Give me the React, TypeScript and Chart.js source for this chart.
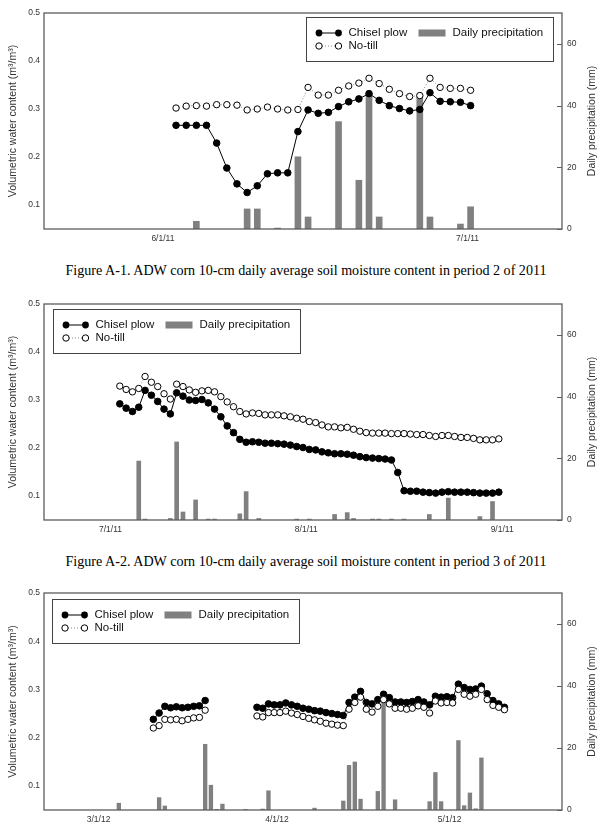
import React, { useEffect, useRef } from "react";
import { Chart, registerables } from "chart.js";
Chart.register(...registerables);

// ---------- shared axis data ----------
const vwcRange = [0.05, 0.5];
const vwcTicks = [0.1, 0.2, 0.3, 0.4, 0.5];
const rainRange = [0, 70];
const rainTicks = [0, 20, 40, 60];
const seriesLabels = ["Chisel plow", "No-till", "Daily precipitation"];
const leftTitle = "Volumetric water content (m³/m³)";
const rightTitle = "Daily precipitation (mm)";

// ---------- Panel 1 (period 2 of 2011) ----------
const p1Range = ["5/20/11", "7/10/11"];
const p1TickDates = ["6/1/11", "7/1/11"];
const p1Start = "6/2/11";
const p1Chisel = [0.266, 0.266, 0.266, 0.266, 0.229, 0.177, 0.144, 0.126, 0.14, 0.165, 0.167, 0.167, 0.253, 0.298, 0.291, 0.293, 0.305, 0.315, 0.321, 0.332, 0.318, 0.307, 0.301, 0.296, 0.299, 0.334, 0.316, 0.315, 0.314, 0.307];
const p1NoTill = [0.302, 0.306, 0.307, 0.306, 0.309, 0.309, 0.308, 0.298, 0.3, 0.304, 0.3, 0.298, 0.299, 0.345, 0.329, 0.329, 0.339, 0.348, 0.354, 0.364, 0.353, 0.341, 0.332, 0.326, 0.328, 0.364, 0.345, 0.343, 0.343, 0.339];
const p1RainDates = ["6/4/11", "6/9/11", "6/10/11", "6/12/11", "6/14/11", "6/15/11", "6/18/11", "6/20/11", "6/21/11", "6/22/11", "6/26/11", "6/27/11", "6/30/11", "7/1/11"];
const p1Rain = [2.5, 6.5, 6.5, 0.3, 23.4, 3.9, 34.8, 15.8, 44.0, 3.9, 43.5, 3.9, 1.6, 7.2];
const p1Caption = "Figure A-1. ADW corn 10-cm daily average soil moisture content in period 2 of 2011";

// ---------- Panel 2 (period 3 of 2011) ----------
const p2Range = ["6/20/11", "9/10/11"];
const p2TickDates = ["7/1/11", "8/1/11", "9/1/11"];
const p2Start = "7/2/11";
const p2Chisel = [0.292, 0.283, 0.276, 0.285, 0.32, 0.31, 0.297, 0.281, 0.271, 0.315, 0.308, 0.3, 0.299, 0.301, 0.294, 0.281, 0.265, 0.246, 0.232, 0.218, 0.212, 0.213, 0.212, 0.21, 0.21, 0.209, 0.208, 0.206, 0.203, 0.201,
  0.197, 0.196, 0.192, 0.19, 0.188, 0.188, 0.187, 0.185, 0.182, 0.18, 0.179, 0.178, 0.177, 0.175, 0.149, 0.111, 0.11, 0.11, 0.108, 0.107, 0.106, 0.108, 0.109, 0.108, 0.108, 0.108, 0.107, 0.106, 0.106, 0.106, 0.108];
const p2NoTill = [0.329, 0.322, 0.317, 0.324, 0.349, 0.337, 0.328, 0.313, 0.302, 0.333, 0.328, 0.321, 0.316, 0.319, 0.32, 0.317, 0.307, 0.296, 0.286, 0.276, 0.271, 0.273, 0.272, 0.269, 0.269, 0.269, 0.267, 0.265, 0.262, 0.26,
  0.255, 0.253, 0.248, 0.244, 0.244, 0.242, 0.243, 0.239, 0.235, 0.232, 0.231, 0.231, 0.231, 0.23, 0.23, 0.23, 0.229, 0.228, 0.228, 0.226, 0.224, 0.226, 0.226, 0.224, 0.222, 0.222, 0.22, 0.217, 0.217, 0.217, 0.219];
const p2RainDates = ["7/5/11", "7/6/11", "7/10/11", "7/11/11", "7/12/11", "7/14/11", "7/16/11", "7/17/11", "7/21/11", "7/22/11", "7/24/11", "7/30/11", "8/1/11", "8/5/11", "8/7/11", "8/8/11", "8/11/11", "8/12/11", "8/14/11", "8/16/11", "8/20/11", "8/23/11", "8/28/11", "8/30/11"];
const p2Rain = [19.1, 0.3, 0.5, 25.3, 2.6, 6.5, 0.3, 0.3, 2.0, 9.2, 0.5, 0.3, 0.3, 1.8, 2.4, 0.5, 0.3, 0.3, 0.3, 0.3, 1.8, 7.1, 1.1, 6.0];
const p2Caption = "Figure A-2. ADW corn 10-cm daily average soil moisture content in period 3 of 2011";

// ---------- Panel 3 (spring 2012) ----------
const p3Range = ["2/20/12", "5/20/12"];
const p3TickDates = ["3/1/12", "4/1/12", "5/1/12"];
const p3Start = "3/10/12";
const p3Chisel = [0.238, 0.251, 0.265, 0.262, 0.264, 0.262, 0.263, 0.265, 0.266, 0.277,
  null, null, null, null, null, null, null, null,
  0.263, 0.261, 0.27, 0.268, 0.268, 0.272, 0.268, 0.265, 0.261, 0.259, 0.256, 0.255, 0.252, 0.25, 0.248, 0.246,
  0.273, 0.284, 0.296, 0.273, 0.27, 0.279, 0.29, 0.283, 0.274, 0.274, 0.273, 0.275, 0.279, 0.274, 0.268, 0.286, 0.284, 0.285, 0.283, 0.311, 0.304, 0.3, 0.301, 0.307, 0.291, 0.277, 0.27, 0.263];
const p3NoTill = [0.22, 0.225, 0.238, 0.237, 0.238, 0.235, 0.238, 0.241, 0.242, 0.257,
  null, null, null, null, null, null, null, null,
  0.245, 0.243, 0.252, 0.252, 0.252, 0.255, 0.251, 0.248, 0.244, 0.24, 0.237, 0.234, 0.23, 0.228, 0.226, 0.225,
  0.259, 0.273, 0.284, 0.259, 0.253, 0.265, 0.279, 0.27, 0.261, 0.261, 0.259, 0.261, 0.266, 0.263, 0.251, 0.276, 0.272, 0.273, 0.272, 0.3, 0.29, 0.286, 0.29, 0.3, 0.279, 0.267, 0.263, 0.258];
const p3RainDates = ["3/4/12", "3/11/12", "3/12/12", "3/19/12", "3/20/12", "3/21/12", "3/22/12", "3/26/12", "3/29/12", "3/30/12", "4/7/12", "4/12/12", "4/13/12", "4/14/12", "4/15/12", "4/18/12", "4/19/12", "4/21/12", "4/27/12", "4/28/12", "4/29/12", "5/2/12", "5/3/12", "5/4/12", "5/5/12", "5/6/12"];
const p3Rain = [2.2, 4.0, 1.3, 21.2, 8.0, 0.2, 1.9, 0.2, 0.3, 6.2, 0.6, 2.9, 14.4, 15.5, 3.5, 6.0, 37.0, 3.3, 2.7, 12.1, 2.7, 22.4, 1.4, 5.5, 0.4, 16.8];

// ---------- helpers ----------
const DAY = 86400000;
const toDay = (s: string) => {
  const [m, d, y] = s.split("/").map(Number);
  return Date.UTC(2000 + y, m - 1, d) / DAY;
};

const SANS = '"Liberation Sans", Arial, sans-serif';
const SERIF = '"Liberation Serif", "Times New Roman", serif';
const TEXT = "#333";
const FRAME = "#5c5c5c";
const BAR = "#808080";

type PanelCfg = {
  top: number;
  height: number;
  padTop: number;
  plotH: number;
  range: string[];
  tickDates: string[];
  start: string;
  chisel: (number | null)[];
  noTill: (number | null)[];
  rainDates: string[];
  rain: number[];
  barW: number;
  legendDx: number;
  legendDy: number;
};

const decorPlugin = {
  id: "decor",
  afterDraw(chart: any, _args: any, opts: any) {
    const { ctx, chartArea: a } = chart;
    ctx.save();
    // frame
    ctx.strokeStyle = FRAME;
    ctx.lineWidth = 1.3;
    ctx.strokeRect(a.left, a.top, a.right - a.left, a.bottom - a.top);
    // inward ticks on right axis
    const y2 = chart.scales.y2;
    ctx.lineWidth = 1;
    y2.ticks.forEach((t: any) => {
      const py = Math.round(y2.getPixelForValue(t.value)) + 0.5;
      ctx.beginPath();
      ctx.moveTo(a.right - 5, py);
      ctx.lineTo(a.right, py);
      ctx.stroke();
    });
    // axis titles
    const cy = (a.top + a.bottom) / 2;
    ctx.fillStyle = TEXT;
    ctx.font = `10.5px ${SANS}`;
    ctx.textAlign = "center";
    ctx.textBaseline = "middle";
    ctx.save();
    ctx.translate(13, cy);
    ctx.rotate(-Math.PI / 2);
    ctx.fillText(leftTitle, 0, 0);
    ctx.restore();
    ctx.save();
    ctx.translate(592, cy);
    ctx.rotate(-Math.PI / 2);
    ctx.fillText(rightTitle, 0, 0);
    ctx.restore();

    // legend
    const bx = Math.round(a.left + opts.dx) + 0.5;
    const by = Math.round(a.top + opts.dy) + 0.5;
    const bw = 247, bh = 44;
    ctx.fillStyle = "#fff";
    ctx.fillRect(bx, by, bw, bh);
    ctx.strokeStyle = "#444";
    ctx.lineWidth = 1;
    ctx.strokeRect(bx, by, bw, bh);
    const r1 = by + 15.5, r2 = by + 28.5;
    const m1 = bx + 12.5, m2 = bx + 32;
    // chisel symbol
    ctx.strokeStyle = "#000";
    ctx.beginPath();
    ctx.moveTo(m1, r1);
    ctx.lineTo(m2, r1);
    ctx.stroke();
    ctx.fillStyle = "#000";
    [m1, m2].forEach((mx) => {
      ctx.beginPath();
      ctx.arc(mx, r1, 3.4, 0, Math.PI * 2);
      ctx.fill();
    });
    // no-till symbol
    ctx.strokeStyle = "#888";
    ctx.setLineDash([1, 2]);
    ctx.beginPath();
    ctx.moveTo(m1, r2);
    ctx.lineTo(m2, r2);
    ctx.stroke();
    ctx.setLineDash([]);
    ctx.strokeStyle = "#000";
    [m1, m2].forEach((mx) => {
      ctx.beginPath();
      ctx.arc(mx, r2, 3.2, 0, Math.PI * 2);
      ctx.fillStyle = "#fff";
      ctx.fill();
      ctx.stroke();
    });
    // bar swatch
    ctx.fillStyle = BAR;
    ctx.fillRect(bx + 112, r1 - 3.5, 27, 7);
    // texts
    ctx.fillStyle = "#111";
    ctx.font = `11.5px ${SANS}`;
    ctx.textAlign = "left";
    ctx.textBaseline = "middle";
    ctx.fillText(seriesLabels[0], bx + 42, r1);
    ctx.fillText(seriesLabels[2], bx + 146, r1);
    ctx.fillText(seriesLabels[1], bx + 42, r2);
    ctx.restore();
  },
};

function Panel({ cfg }: { cfg: PanelCfg }) {
  const ref = useRef<HTMLCanvasElement | null>(null);
  useEffect(() => {
    if (!ref.current) return;
    const start = toDay(cfg.start);
    const tickVals = cfg.tickDates.map(toDay);
    const chart = new Chart(ref.current, {
      type: "line",
      data: {
        datasets: [
          {
            type: "line",
            label: seriesLabels[1],
            yAxisID: "y",
            data: cfg.noTill.map((v, i) => ({ x: start + i, y: v })),
            borderColor: "#888",
            borderWidth: 1,
            borderDash: [1, 2],
            pointRadius: 3.2,
            pointBackgroundColor: "#fff",
            pointBorderColor: "#000",
            pointBorderWidth: 1,
            spanGaps: false,
            tension: 0,
            order: 1,
          } as any,
          {
            type: "line",
            label: seriesLabels[0],
            yAxisID: "y",
            data: cfg.chisel.map((v, i) => ({ x: start + i, y: v })),
            borderColor: "#000",
            borderWidth: 1,
            pointRadius: 3.3,
            pointBackgroundColor: "#000",
            pointBorderColor: "#000",
            pointBorderWidth: 1,
            spanGaps: false,
            tension: 0,
            order: 2,
          } as any,
          {
            type: "bar",
            label: seriesLabels[2],
            yAxisID: "y2",
            data: cfg.rainDates.map((d, i) => ({ x: toDay(d), y: cfg.rain[i] })),
            backgroundColor: BAR,
            borderWidth: 0,
            barThickness: cfg.barW,
            order: 3,
          } as any,
        ],
      },
      options: {
        responsive: false,
        animation: false,
        events: [],
        layout: { padding: { top: cfg.padTop, left: 0, right: 0, bottom: 0 } },
        plugins: {
          legend: { display: false },
          tooltip: { enabled: false },
          decor: { dx: cfg.legendDx, dy: cfg.legendDy },
        } as any,
        scales: {
          x: {
            type: "linear",
            min: toDay(cfg.range[0]),
            max: toDay(cfg.range[1]),
            offset: false,
            grid: { display: false, drawTicks: false, offset: false },
            border: { display: false },
            afterBuildTicks: (ax: any) => {
              ax.ticks = tickVals.map((v) => ({ value: v }));
            },
            afterFit: (s: any) => {
              s.height = cfg.height - cfg.padTop - cfg.plotH;
            },
            ticks: {
              autoSkip: false,
              maxRotation: 0,
              padding: 5,
              labelOffset: -3,
              color: TEXT,
              font: { family: SANS, size: 8.5 },
              callback: (_v: any, i: number) => cfg.tickDates[i],
            },
          } as any,
          y: {
            type: "linear",
            position: "left",
            min: vwcRange[0],
            max: vwcRange[1],
            grid: { display: false, drawTicks: false },
            border: { display: false },
            afterBuildTicks: (ax: any) => {
              ax.ticks = vwcTicks.map((v) => ({ value: v }));
            },
            afterFit: (s: any) => {
              s.width = 44;
            },
            ticks: {
              padding: 4,
              color: TEXT,
              font: { family: SANS, size: 8.5 },
              callback: (v: any) => Number(v).toFixed(1),
            },
          } as any,
          y2: {
            type: "linear",
            position: "right",
            min: rainRange[0],
            max: rainRange[1],
            grid: { display: false, drawTicks: false },
            border: { display: false },
            afterBuildTicks: (ax: any) => {
              ax.ticks = rainTicks.map((v) => ({ value: v }));
            },
            afterFit: (s: any) => {
              s.width = 50;
            },
            ticks: {
              padding: 5,
              color: TEXT,
              font: { family: SANS, size: 8.5 },
              callback: (v: any) => String(v),
            },
          } as any,
        },
      },
      plugins: [decorPlugin],
    });
    return () => chart.destroy();
  }, [cfg]);
  return (
    <canvas
      ref={ref}
      width={612}
      height={cfg.height}
      style={{ position: "absolute", left: 0, top: cfg.top, width: 612, height: cfg.height }}
    />
  );
}

const panels: PanelCfg[] = [
  { top: 0, height: 252, padTop: 13, plotH: 216, range: p1Range, tickDates: p1TickDates, start: p1Start, chisel: p1Chisel, noTill: p1NoTill, rainDates: p1RainDates, rain: p1Rain, barW: 6, legendDx: 262, legendDy: 4 },
  { top: 290, height: 252, padTop: 14, plotH: 216, range: p2Range, tickDates: p2TickDates, start: p2Start, chisel: p2Chisel, noTill: p2NoTill, rainDates: p2RainDates, rain: p2Rain, barW: 4, legendDx: 9, legendDy: 5 },
  { top: 580, height: 245, padTop: 13, plotH: 217, range: p3Range, tickDates: p3TickDates, start: p3Start, chisel: p3Chisel, noTill: p3NoTill, rainDates: p3RainDates, rain: p3Rain, barW: 3.7, legendDx: 8, legendDy: 6 },
];

const captions = [
  { top: 261, text: p1Caption },
  { top: 552, text: p2Caption },
];

export default function App() {
  return (
    <div style={{ position: "absolute", left: 0, top: 0, width: 612, height: 825, background: "#fff", overflow: "hidden" }}>
      {panels.map((p, i) => (
        <Panel key={i} cfg={p} />
      ))}
      {captions.map((c, i) => (
        <div
          key={i}
          style={{
            position: "absolute",
            left: 0,
            top: c.top,
            width: 612,
            textAlign: "center",
            fontFamily: SERIF,
            fontSize: 14.1,
            lineHeight: "18px",
            color: "#000",
          }}
        >
          {c.text}
        </div>
      ))}
    </div>
  );
}
